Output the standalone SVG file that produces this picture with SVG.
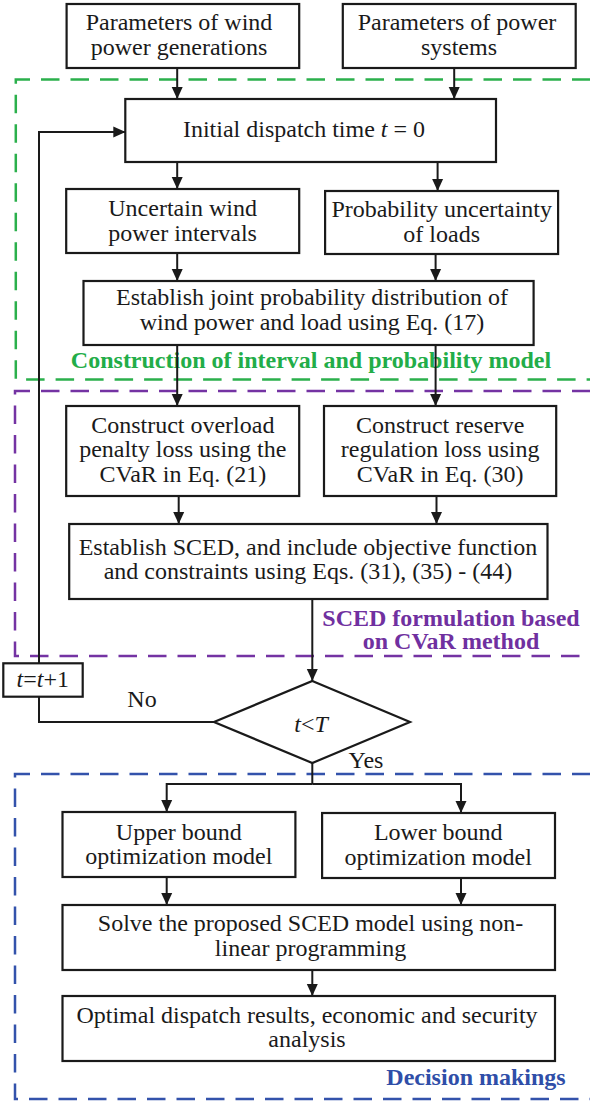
<svg xmlns="http://www.w3.org/2000/svg" width="590" height="1102" viewBox="0 0 590 1102">
<style>
  .box { fill: #ffffff; stroke: #1a1a1a; stroke-width: 2.2; }
  .t { font-family: "Liberation Serif", "Times New Roman", serif; font-size: 24px; fill: #1a1a1a; text-anchor: middle; }
  .i { font-style: italic; }
  .lbl { font-family: "Liberation Serif", "Times New Roman", serif; font-size: 24px; font-weight: bold; text-anchor: middle; }
  .ln { fill: none; stroke: #1a1a1a; stroke-width: 2; }
  .arr { marker-end: url(#ah); }
  .dash { fill: none; stroke-width: 2.5; stroke-dasharray: 18.5 11; }
</style>
<defs>
  <marker id="ah" markerUnits="userSpaceOnUse" markerWidth="12" markerHeight="12" refX="12" refY="6" orient="auto">
    <path d="M0,0.5 L12,6 L0,11.5 z" fill="#1a1a1a"/>
  </marker>
</defs>
<rect width="590" height="1102" fill="#ffffff"/>

<g id="regions">
  <path class="dash" stroke="#2bb04c" d="M620,79.5 L15.8,79.5 L15.8,379.5 L620,379.5"/>
  <path class="dash" stroke="#7433a3" d="M620,391 L15,391 L15,656 L620,656"/>
  <path class="dash" stroke="#3352ab" d="M620,774 L15,774 L15,1099 L620,1099"/>
  <text class="lbl" x="311" y="367.5" fill="#22ad48">Construction of interval and probability model</text>
  <text class="lbl" x="451" y="625.5" fill="#7030a0">SCED formulation based</text>
  <text class="lbl" x="451" y="649.3" fill="#7030a0">on CVaR method</text>
  <text class="lbl" x="476" y="1085" fill="#2f4ea8">Decision makings</text>
</g>

<g id="connectors">
  <line class="ln arr" x1="177.2" y1="68" x2="177.2" y2="99"/>
  <line class="ln arr" x1="454.2" y1="68" x2="454.2" y2="99"/>
  <line class="ln arr" x1="177.2" y1="162" x2="177.2" y2="189"/>
  <line class="ln arr" x1="437.6" y1="162" x2="437.6" y2="191"/>
  <line class="ln arr" x1="177.2" y1="253" x2="177.2" y2="281"/>
  <line class="ln arr" x1="435.6" y1="254" x2="435.6" y2="281"/>
  <line class="ln arr" x1="177.2" y1="345" x2="177.2" y2="406"/>
  <line class="ln arr" x1="435.6" y1="345" x2="435.6" y2="406"/>
  <line class="ln arr" x1="178.7" y1="496" x2="178.7" y2="524"/>
  <line class="ln arr" x1="436.5" y1="496" x2="436.5" y2="524"/>
  <line class="ln arr" x1="312.3" y1="599" x2="312.3" y2="681"/>
  <polyline class="ln" points="214,722 39,722 39,697"/>
  <polyline class="ln arr" points="39,663 39,132 125.3,132"/>
  <line class="ln" x1="312.3" y1="763" x2="312.3" y2="784"/>
  <polyline class="ln arr" points="312.3,784 166.7,784 166.7,812"/>
  <polyline class="ln arr" points="312.3,784 461,784 461,813"/>
  <line class="ln arr" x1="166.7" y1="877" x2="166.7" y2="905"/>
  <line class="ln arr" x1="461" y1="878" x2="461" y2="905"/>
  <line class="ln arr" x1="312.3" y1="970" x2="312.3" y2="996"/>
  <text class="t" x="142" y="707">No</text>
  <text class="t" x="366" y="768">Yes</text>
</g>

<g id="n-wind-params">
  <rect class="box" x="66.6" y="4" width="232.6" height="64"/>
  <text class="t" x="179" y="30">Parameters of wind</text>
  <text class="t" x="179" y="55">power generations</text>
</g>
<g id="n-sys-params">
  <rect class="box" x="342.8" y="4" width="232.9" height="64"/>
  <text class="t" x="457" y="30">Parameters of power</text>
  <text class="t" x="459" y="55">systems</text>
</g>
<g id="n-init">
  <rect class="box" x="125.3" y="99" width="370.7" height="63"/>
  <text class="t" x="304" y="137">Initial dispatch time <tspan class="i">t</tspan> = 0</text>
</g>
<g id="n-wind-int">
  <rect class="box" x="66.2" y="189" width="233" height="64"/>
  <text class="t" x="182.6" y="216">Uncertain wind</text>
  <text class="t" x="182.6" y="241">power intervals</text>
</g>
<g id="n-load-prob">
  <rect class="box" x="325.1" y="191" width="233" height="63"/>
  <text class="t" x="441.7" y="216.7">Probability uncertainty</text>
  <text class="t" x="441.7" y="241.7">of loads</text>
</g>
<g id="n-joint">
  <rect class="box" x="83.5" y="281" width="450.1" height="64"/>
  <text class="t" x="312" y="305">Establish joint probability distribution of</text>
  <text class="t" x="312" y="330">wind power and load using Eq. (17)</text>
</g>
<g id="n-overload">
  <rect class="box" x="66.2" y="406" width="233" height="90"/>
  <text class="t" x="182.8" y="432.7">Construct overload</text>
  <text class="t" x="182.8" y="457.2">penalty loss using the</text>
  <text class="t" x="182.8" y="481.7">CVaR in Eq. (21)</text>
</g>
<g id="n-reserve">
  <rect class="box" x="324" y="406" width="232.2" height="90"/>
  <text class="t" x="440.2" y="432.7">Construct reserve</text>
  <text class="t" x="440.2" y="457.2">regulation loss using</text>
  <text class="t" x="440.2" y="481.7">CVaR in Eq. (30)</text>
</g>
<g id="n-sced">
  <rect class="box" x="69.2" y="524" width="478.3" height="75"/>
  <text class="t" x="308" y="554.5">Establish SCED, and include objective function</text>
  <text class="t" x="308" y="579">and constraints using Eqs. (31), (35) - (44)</text>
</g>
<g id="n-tinc">
  <rect class="box" x="3.3" y="663.3" width="79.4" height="33.4"/>
  <text class="t" x="42.8" y="687"><tspan class="i">t</tspan>=<tspan class="i">t</tspan>+1</text>
</g>
<g id="n-decision">
  <polygon class="box" points="312.3,681 410,722 312.3,763 214,722"/>
  <text class="t" x="311" y="731.7"><tspan class="i">t</tspan>&lt;<tspan class="i">T</tspan></text>
</g>
<g id="n-upper">
  <rect class="box" x="62.5" y="812" width="232.9" height="65"/>
  <text class="t" x="178.8" y="839.5">Upper bound</text>
  <text class="t" x="178.8" y="864">optimization model</text>
</g>
<g id="n-lower">
  <rect class="box" x="322.1" y="813" width="232.9" height="65"/>
  <text class="t" x="438.2" y="840">Lower bound</text>
  <text class="t" x="438.2" y="864.5">optimization model</text>
</g>
<g id="n-solve">
  <rect class="box" x="62.5" y="905" width="492.5" height="65"/>
  <text class="t" x="310.5" y="931">Solve the proposed SCED model using non-</text>
  <text class="t" x="310.5" y="955.5">linear programming</text>
</g>
<g id="n-optimal">
  <rect class="box" x="62.5" y="996" width="492.5" height="65"/>
  <text class="t" x="307" y="1022.5">Optimal dispatch results, economic and security</text>
  <text class="t" x="307" y="1047">analysis</text>
</g>
</svg>
